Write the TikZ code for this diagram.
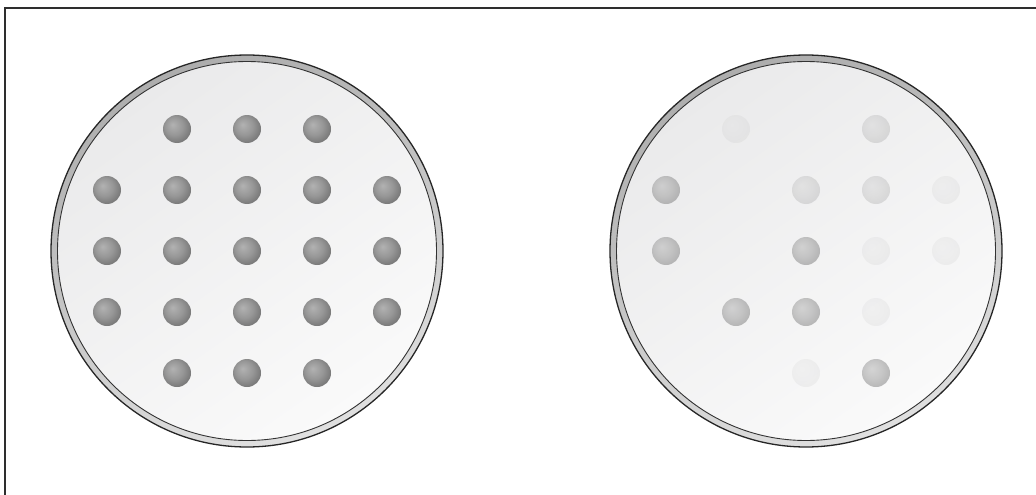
\documentclass[tikz,border=0pt]{standalone}
\usetikzlibrary{calc}
\definecolor{dA}{HTML}{B2B2B2}
\definecolor{dB}{HTML}{979797}
\definecolor{dC}{HTML}{777777}
\definecolor{dD}{HTML}{888888}
\definecolor{dishA}{HTML}{EAEAEB}
\definecolor{dishB}{HTML}{FAFAFA}
\definecolor{rimA}{HTML}{ADADAD}
\definecolor{rimB}{HTML}{E0E0E0}
\definecolor{framec}{HTML}{2E2E2E}
\pgfdeclareradialshading{dotsh}{\pgfpoint{-8bp}{8bp}}{color(0bp)=(dA); color(16bp)=(dB); color(29bp)=(dC); color(34bp)=(dD); color(50bp)=(dD)}
\tikzset{
  framestyle/.style={draw=framec, line width=1.6pt},
  rimstyle/.style={top color=rimA, bottom color=rimB, shading angle=20},
  dishstyle/.style={top color=dishA, bottom color=dishB, shading angle=35},
  rimline/.style={draw=black!85, line width=1.3pt},
  rimlinein/.style={draw=black!80, line width=0.9pt},
  dotfull/.style={shading=dotsh},
  dotmed/.style={shading=dotsh, opacity=0.5},
  dotlight/.style={shading=dotsh, opacity=0.22},
  dotfaint/.style={shading=dotsh, opacity=0.08}
}
\newcommand{\dish}[2]{%
  \shade[rimstyle, even odd rule] (#1,#2) circle[radius=196] (#1,#2) circle[radius=189.5];
  \shade[dishstyle] (#1,#2) circle[radius=189.5];
  \draw[rimline] (#1,#2) circle[radius=196];
  \draw[rimlinein] (#1,#2) circle[radius=189.5];
}
\newcommand{\dotat}[4]{% centre col row style
  \shade[#4] ($(#1)+(#2*70-210,#3*61-183)$) circle[radius=14];
}
\begin{document}
\begin{tikzpicture}[x=1pt,y=-1pt]
\useasboundingbox (0,0) rectangle (1036,495);
\draw[framestyle] (5,495) -- (5,8) -- (1036,8);
\dish{247}{251}
\dish{806}{251}
\coordinate (L) at (247,251);
\coordinate (R) at (806,251);
% left dish dots
\foreach \c in {2,3,4} {\dotat{L}{\c}{1}{dotfull}}
\foreach \r in {2,3,4} {\foreach \c in {1,...,5} {\dotat{L}{\c}{\r}{dotfull}}}
\foreach \c in {2,3,4} {\dotat{L}{\c}{5}{dotfull}}
% right dish dots
\dotat{R}{2}{1}{dotfaint}
\dotat{R}{4}{1}{dotlight}
\dotat{R}{1}{2}{dotmed}
\dotat{R}{3}{2}{dotlight}
\dotat{R}{4}{2}{dotlight}
\dotat{R}{5}{2}{dotfaint}
\dotat{R}{1}{3}{dotmed}
\dotat{R}{3}{3}{dotmed}
\dotat{R}{4}{3}{dotfaint}
\dotat{R}{5}{3}{dotfaint}
\dotat{R}{2}{4}{dotmed}
\dotat{R}{3}{4}{dotmed}
\dotat{R}{4}{4}{dotfaint}
\dotat{R}{3}{5}{dotfaint}
\dotat{R}{4}{5}{dotmed}
\end{tikzpicture}
\end{document}
